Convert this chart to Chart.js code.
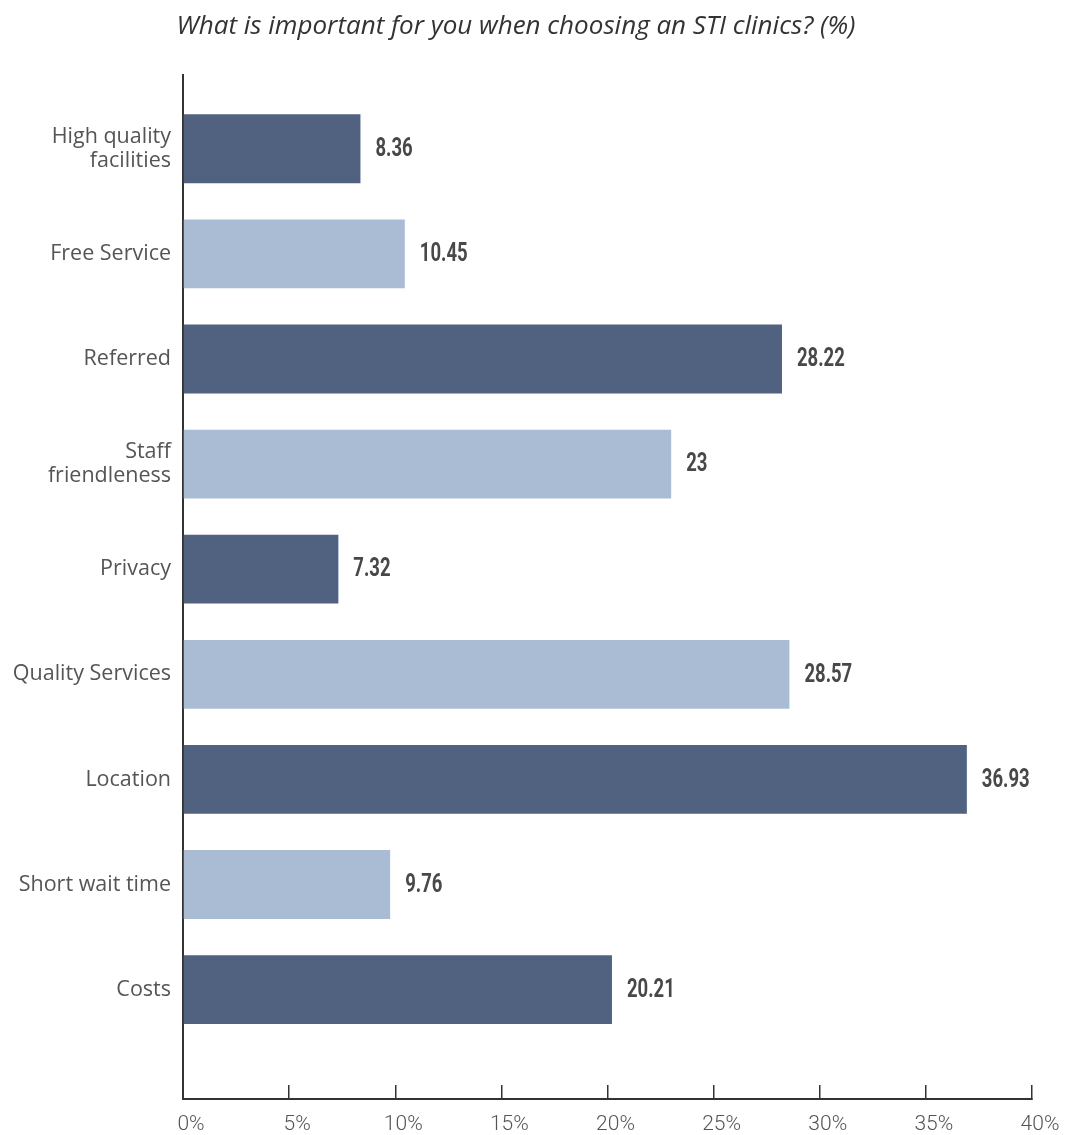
<!DOCTYPE html>
<html>
<head>
<meta charset="utf-8">
<title>STI clinics</title>
<script src="https://cdn.jsdelivr.net/npm/chart.js@4/dist/chart.umd.min.js"></script>
<style>
  html, body { margin: 0; padding: 0; background: #fff; }
  #wrap { width: 1066px; height: 1135px; }
</style>
</head>
<body>
<div id="wrap"><canvas id="clinicChart"></canvas></div>
<script>
const categories = [
  ["High quality", "facilities"],
  "Free Service",
  "Referred",
  ["Staff", "friendleness"],
  "Privacy",
  "Quality Services",
  "Location",
  "Short wait time",
  "Costs",
];
const percentages = [8.36, 10.45, 28.22, 23, 7.32, 28.57, 36.93, 9.76, 20.21];
const barColors = ["#50627f", "#a9bcd4", "#50627f", "#a9bcd4", "#50627f", "#a9bcd4", "#50627f", "#a9bcd4", "#50627f"];
const xTickValues = [0, 5, 10, 15, 20, 25, 30, 35, 40];

// prints the value to the right of each bar, squeezed to look condensed
const valueLabels = {
  id: "valueLabels",
  afterDatasetsDraw(chart) {
    const ctx = chart.ctx;
    const meta = chart.getDatasetMeta(0);
    const squeeze = 0.74;
    ctx.save();
    ctx.font = "bold 25px Roboto, sans-serif";
    ctx.fillStyle = "#484848";
    ctx.textBaseline = "middle";
    ctx.textAlign = "left";
    meta.data.forEach((bar, i) => {
      ctx.save();
      ctx.translate(bar.x + 15, bar.y + 1);
      ctx.scale(squeeze, 1);
      ctx.fillText(String(percentages[i]), 0, 0);
      ctx.restore();
    });
    ctx.restore();
  },
};

const ctx = document.getElementById("clinicChart").getContext("2d");

new Chart(ctx, {
  type: "bar",
  data: {
    datasets: [
      {
        data: percentages.map((v, i) => ({ x: v, y: i })),
        backgroundColor: barColors,
        borderWidth: 0,
        categoryPercentage: 1,
        barPercentage: 0.655,
      },
    ],
  },
  options: {
    indexAxis: "y",
    responsive: true,
    maintainAspectRatio: false,
    animation: false,
    layout: { padding: { top: 0, right: 34, bottom: 0, left: 0 } },
    scales: {
      x: {
        type: "linear",
        position: "bottom",
        min: 0,
        max: 40,
        afterBuildTicks: (scale) => {
          scale.ticks = xTickValues.map((v) => ({ value: v }));
        },
        afterFit: (scale) => {
          scale.height = 34;
          scale.paddingLeft = 0;
          scale.paddingRight = 0;
        },
        grid: {
          drawOnChartArea: false,
          drawTicks: true,
          tickLength: -14,
          color: "#333",
          lineWidth: 1.5,
        },
        border: { color: "#333", width: 2 },
        ticks: {
          padding: 27,
          labelOffset: 8,
          color: "#555",
          font: { family: "Roboto", size: 21, weight: "300" },
          callback: (v) => v + "%",
        },
      },
      y: {
        type: "linear",
        reverse: true,
        offset: false,
        min: -0.7,
        max: 9.04,
        afterBuildTicks: (scale) => {
          scale.ticks = categories.map((c, i) => ({ value: i }));
        },
        afterFit: (scale) => {
          scale.width = 183;
        },
        grid: { offset: false, drawOnChartArea: false, drawTicks: false },
        border: { color: "#333", width: 2 },
        ticks: {
          padding: 12,
          color: "#555",
          font: { family: "Open Sans", size: 21.5, lineHeight: 1.12 },
          callback: (v) => categories[v],
        },
      },
    },
    plugins: {
      legend: { display: false },
      tooltip: { enabled: false },
      title: {
        display: true,
        text: "What is important for you when choosing an STI clinics? (%)",
        color: "#333",
        font: { family: "Open Sans", size: 26, style: "italic", weight: "normal" },
        padding: { top: 11, bottom: 33 },
      },
    },
  },
  plugins: [valueLabels],
});
</script>
</body>
</html>
